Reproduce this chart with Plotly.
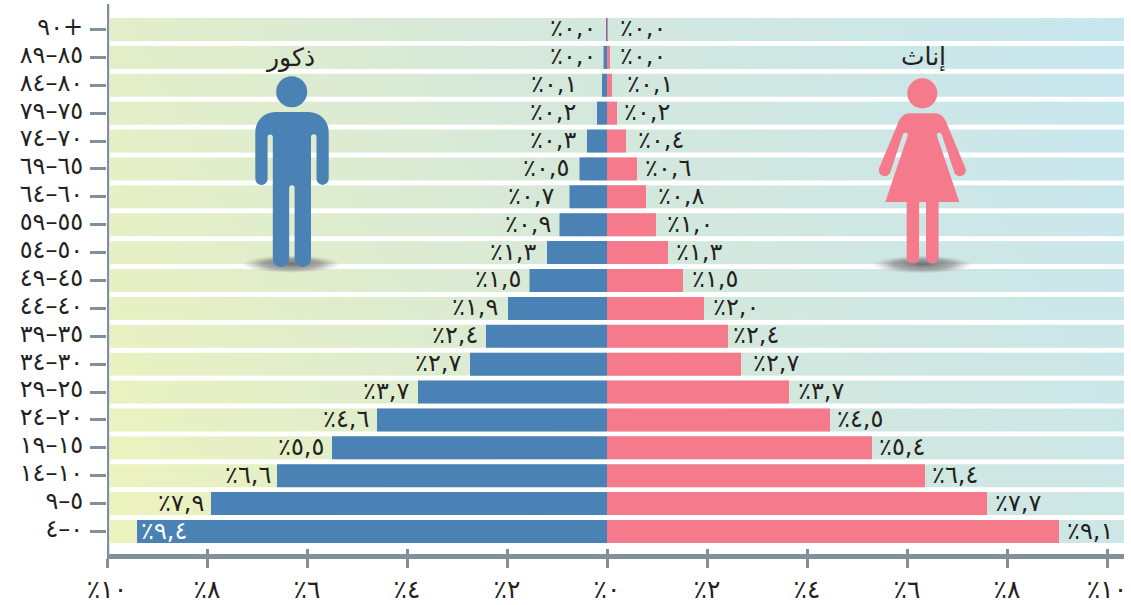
import base64
import plotly.graph_objects as go

ages = ["٠–٤","٥–٩","١٠–١٤","١٥–١٩","٢٠–٢٤","٢٥–٢٩","٣٠–٣٤","٣٥–٣٩","٤٠–٤٤","٤٥–٤٩",
        "٥٠–٥٤","٥٥–٥٩","٦٠–٦٤","٦٥–٦٩","٧٠–٧٤","٧٥–٧٩","٨٠–٨٤","٨٥–٨٩","٩٠+"]
male = [9.4,7.92,6.6,5.5,4.6,3.78,2.74,2.42,1.98,1.55,1.2,0.95,0.75,0.55,0.4,0.2,0.1,0.07,0.01]
female = [9.04,7.6,6.36,5.3,4.46,3.64,2.68,2.42,1.94,1.52,1.22,0.98,0.78,0.6,0.38,0.2,0.1,0.06,0.01]
male_labels = ["٩,٤","٧,٩","٦,٦","٥,٥","٤,٦","٣,٧","٢,٧","٢,٤","١,٩","١,٥","١,٣","٠,٩","٠,٧","٠,٥","٠,٣","٠,٢","٠,١","٠,٠","٠,٠"]
female_labels = ["٩,١","٧,٧","٦,٤","٥,٤","٤,٥","٣,٧","٢,٧","٢,٤","٢,٠","١,٥","١,٣","١,٠","٠,٨","٠,٦","٠,٤","٠,٢","٠,١","٠,٠","٠,٠"]
x_ticks = [-10,-8,-6,-4,-2,0,2,4,6,8,10]
x_tick_labels = ["٪١٠","٪٨","٪٦","٪٤","٪٢","٪٠","٪٢","٪٤","٪٦","٪٨","٪١٠"]

W, H = 1131, 605
FONT = "DejaVu Sans"
INK = "#231f20"
AXIS = "#80909c"
BLUE = "#4a82b5"
PINK = "#f57b8c"
L, R, T, B = 107, 1124, 4, 554
PITCH = 27.89
Y0PX = 531.5
y_range = [(Y0PX - B) / PITCH, (Y0PX - T) / PITCH]
x_range = [-10, -10 + (R - L) / 50.0]
# gap in pixels between each bar end and its label, bottom row first
male_gap = [2, 5, 4, 6, 6, 7, 7, 6, 8, 7, 9, 7, 14, 9, 9, 19, 23, 6, 9]
female_gap = [6, 6, 5, 5, 5, 7, 10, 3, 7, 7, 6, 9, 10, 6, 10, 5, 13, 8, 10]

def uri(svg):
    return "data:image/svg+xml;base64," + base64.b64encode(svg.encode()).decode()

rows = "".join(f'<rect x="0" y="{PITCH * i:.2f}" width="1014" height="23" fill="url(#g)"/>' for i in range(len(ages)))
grad = ('<svg xmlns="http://www.w3.org/2000/svg" width="1014" height="525" viewBox="0 0 1014 525" preserveAspectRatio="none">'
        '<defs><linearGradient id="g" gradientUnits="userSpaceOnUse" x1="0" y1="525" x2="1014" y2="0">'
        '<stop offset="0" stop-color="#edf3bd"/><stop offset="0.5" stop-color="#d5e8da"/>'
        '<stop offset="1" stop-color="#c7e6ef"/></linearGradient></defs>' + rows + '</svg>')

icons = f'''<svg xmlns="http://www.w3.org/2000/svg" width="{W}" height="{H}" viewBox="0 0 {W} {H}">
<defs><radialGradient id="s"><stop offset="0" stop-color="#55595c" stop-opacity="0.85"/>
<stop offset="0.6" stop-color="#777" stop-opacity="0.6"/><stop offset="1" stop-color="#999" stop-opacity="0"/></radialGradient></defs>
<ellipse cx="291" cy="264" rx="49" ry="9" fill="url(#s)"/>
<ellipse cx="922.5" cy="264.5" rx="50" ry="9" fill="url(#s)"/>
<g fill="{BLUE}">
<circle cx="291.7" cy="91.7" r="15.5"/>
<path d="M275.3 112H308.7A20 20 0 0 1 328.7 132V178.8A6.1 6.1 0 0 1 316.5 178.8V137A2.6 2.6 0 0 0 311 137V258.7A8 8 0 0 1 294.6 258.7V188A2.7 2.7 0 0 0 289.2 188V258.7A8 8 0 0 1 272.8 258.7V137A2.6 2.6 0 0 0 267.6 137V178.8A6.1 6.1 0 0 1 255.3 178.8V132A20 20 0 0 1 275.3 112Z"/>
</g>
<g fill="{PINK}">
<circle cx="922.3" cy="93.3" r="15"/>
<path d="M910 113.3H934.6C941 113.3 945 118 947 124L965.6 168.6A6 6 0 0 1 954.4 172.8L941.7 134.3A2.5 2.5 0 0 0 937 136L959.3 202H885.3L907.6 136A2.5 2.5 0 0 0 902.9 134.3L890.2 172.8A6 6 0 0 1 879 168.6L897.6 124C899.6 118 903.6 113.3 910 113.3Z"/>
<rect x="906.7" y="190" width="12.4" height="73.6" rx="6.2"/>
<rect x="926" y="190" width="12.6" height="73.6" rx="6.3"/>
</g></svg>'''

ys = list(range(len(ages)))
fig = go.Figure()
fig.add_bar(y=ys, x=[-v for v in male], orientation="h", marker=dict(color=BLUE, line_width=0),
            width=0.825, hoverinfo="skip")
fig.add_bar(y=ys, x=female, orientation="h", marker=dict(color=PINK, line_width=0),
            width=0.825, hoverinfo="skip")
# overlaying axis, only to carry the upward half of the crossing ticks
fig.add_scatter(x=[0], y=[0], xaxis="x2", mode="markers", marker_opacity=0, hoverinfo="skip", showlegend=False)

anns = []
for i, (m, f, ml, fl) in enumerate(zip(male, female, male_labels, female_labels)):
    inside = i == 0
    anns.append(dict(x=-m, y=i, text="٪" + ml, showarrow=False,
                     xanchor="left" if inside else "right", xshift=male_gap[i] if inside else -male_gap[i], yshift=1,
                     font=dict(family=FONT, size=24, color="white" if inside else INK)))
    anns.append(dict(x=f, y=i, text="٪" + fl, showarrow=False, xanchor="left", xshift=female_gap[i], yshift=1,
                     font=dict(family=FONT, size=24, color=INK)))
anns.append(dict(x=-6.34, y=17.0, text="ذكور", showarrow=False, font=dict(family=FONT, size=25, color=INK)))
anns.append(dict(x=6.32, y=17.0, text="إناث", showarrow=False, font=dict(family=FONT, size=25, color=INK)))

shapes = [dict(type="line", layer="above", xref="x", yref="paper", x0=-10, x1=-10, y0=-0.008, y1=1,
               line=dict(color=AXIS, width=4.5))]

fig.update_layout(
    width=W, height=H, barmode="overlay", bargap=0.17, showlegend=False,
    margin=dict(l=L, r=W - R, t=T, b=H - B, pad=0, autoexpand=False),
    paper_bgcolor="white", plot_bgcolor="white",
    xaxis=dict(range=x_range, tickvals=x_ticks, ticktext=x_tick_labels, ticks="outside", ticklen=9, tickwidth=2.5,
               tickcolor=AXIS, showline=True, linewidth=4.5, linecolor=AXIS, showgrid=False, zeroline=False,
               automargin=False, tickfont=dict(family=FONT, size=25, color=INK), fixedrange=True),
    xaxis2=dict(range=x_range, overlaying="x", anchor="y", side="bottom", tickvals=x_ticks, ticktext=[""] * len(x_ticks),
                ticks="inside", ticklen=5, tickwidth=2.5, tickcolor=AXIS, showline=False, showgrid=False, zeroline=False,
                automargin=False),
    yaxis=dict(range=y_range, tickvals=ys, ticktext=ages, ticks="outside", ticklen=16, tickwidth=2.5, tickcolor=AXIS,
               showline=False, showgrid=False, zeroline=False, ticklabelstandoff=2, ticklabelshift=-3,
               automargin=False, tickfont=dict(family=FONT, size=24, color=INK), fixedrange=True),
    annotations=anns, shapes=shapes,
    images=[
        dict(source=uri(grad), layer="below", xref="x", yref="y", x=(110 - 607) / 50, y=(Y0PX - 18) / PITCH,
             sizex=1014 / 50, sizey=525 / PITCH, xanchor="left", yanchor="top", sizing="stretch"),
        dict(source=uri(icons), layer="above", xref="paper", yref="paper", x=-L / (R - L), y=1 + T / (B - T),
             sizex=W / (R - L), sizey=H / (B - T), xanchor="left", yanchor="top", sizing="stretch"),
    ],
)
fig.write_html("out.html", config=dict(displayModeBar=False),
               post_script="document.body.style.margin='0';")
